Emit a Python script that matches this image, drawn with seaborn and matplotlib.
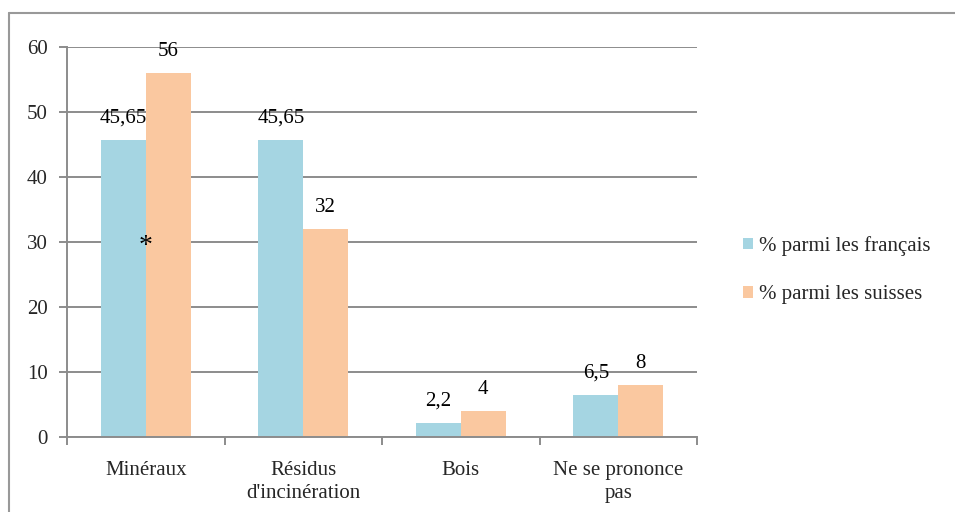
import matplotlib
matplotlib.use("Agg")
import matplotlib.pyplot as plt
from matplotlib.lines import Line2D
import seaborn as sns
import pandas as pd

categories = ["Minéraux", "Résidus\nd'incinération", "Bois", "Ne se prononce\npas"]
series_names = ["% parmi les français", "% parmi les suisses"]
francais = [45.65, 45.65, 2.2, 6.5]
suisses = [56, 32, 4, 8]
colors = ["#A5D5E2", "#FAC8A0"]

rows = []
for name, vals in zip(series_names, [francais, suisses]):
    for cat, v in zip(categories, vals):
        rows.append({"cat": cat, "serie": name, "val": v})
df = pd.DataFrame(rows)

sns.set_theme(style="white")
plt.rcParams["font.family"] = ["Liberation Serif", "DejaVu Serif"]
grid_col = "#8c8c8c"

fig = plt.figure(figsize=(9.55, 5.12), dpi=100)
ax = fig.add_axes([67 / 955, 1 - 437 / 512, 630 / 955, 390 / 512])

sns.barplot(data=df, x="cat", y="val", hue="serie", palette=colors,
            width=0.57, ax=ax, saturation=1, edgecolor="none")

def fmt(v):
    return str(int(v)) if float(v).is_integer() else str(v).replace(".", ",")

for cont, vals in zip(ax.containers, [francais, suisses]):
    ax.bar_label(cont, labels=[fmt(v) for v in vals], padding=9, fontsize=15, color="black")

ax.text(0, 29.3, "*", ha="center", va="center", fontsize=20, color="black")

ax.set_ylim(0, 60)
ax.set_xlim(-0.5, 3.5)
ax.set_yticks(range(0, 61, 10))
ax.yaxis.grid(True, color=grid_col, linewidth=1.4)
ax.set_axisbelow(True)
ax.set_xlabel("")
ax.set_ylabel("")

ax.set_xticks([-0.5, 0.5, 1.5, 2.5, 3.5])
ax.set_xticklabels([])
ax.set_xticks(range(len(categories)), minor=True)
ax.set_xticklabels(categories, minor=True, fontsize=15, linespacing=1.3)
ax.tick_params(axis="x", which="major", length=6, width=1.4, color=grid_col, direction="out", bottom=True)
ax.tick_params(axis="x", which="minor", length=0, pad=17)
ax.tick_params(axis="y", length=6, width=1.4, color=grid_col, direction="out", left=True, pad=8, labelsize=15)

for side in ["top", "right"]:
    ax.spines[side].set_visible(False)
for side in ["left", "bottom"]:
    ax.spines[side].set_color(grid_col)
    ax.spines[side].set_linewidth(1.4)

ax.legend(loc="center left", bbox_to_anchor=(743 / 955, 1 - 270 / 512),
          bbox_transform=fig.transFigure, frameon=False, fontsize=15,
          handlelength=0.5, handleheight=0.5, handletextpad=0.25,
          labelspacing=1.4, borderpad=0, borderaxespad=0)

# cadre extérieur
fy = 1 - 13 / 512
fx = 9 / 955
fig.add_artist(Line2D([fx, 1], [fy, fy], color="#999999", linewidth=1.5, transform=fig.transFigure))
fig.add_artist(Line2D([fx, fx], [fy, 0], color="#999999", linewidth=1.5, transform=fig.transFigure))

fig.savefig("out.png", dpi=100)
plt.close(fig)
